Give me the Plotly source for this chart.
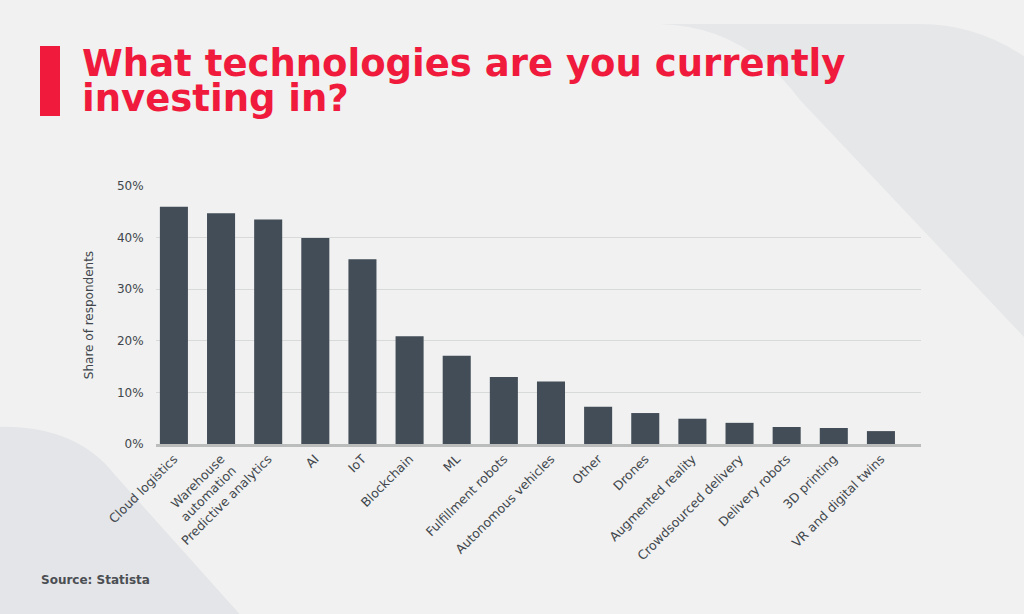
import plotly.graph_objects as go

categories = ["Cloud logistics", "Warehouse<br>automation", "Predictive analytics", "AI", "IoT",
              "Blockchain", "ML", "Fulfillment robots", "Autonomous vehicles", "Other", "Drones",
              "Augmented reality", "Crowdsourced delivery", "Delivery robots", "3D printing",
              "VR and digital twins"]
shares = [46.0, 44.7, 43.5, 39.9, 35.8, 20.9, 17.1, 13.0, 12.1, 7.2, 6.0, 4.9, 4.1, 3.3, 3.1, 2.5]
y_ticks = [0, 10, 20, 30, 40, 50]
y_tick_labels = ["0%", "10%", "20%", "30%", "40%", "50%"]

W, H = 1024, 614
L, R, T, B = 156, 921, 186, 444  # plot area in pixels


def px(x, y):
    return (x - L) / (R - L), (B - y) / (B - T)


def path(cmds):
    out = []
    for c in cmds:
        op, pts = c[0], c[1:]
        s = op
        for i in range(0, len(pts), 2):
            xx, yy = px(pts[i], pts[i + 1])
            s += f" {xx:.4f},{yy:.4f}"
        out.append(s)
    return " ".join(out) + " Z"


BG = "#f0f1f0"
TEXT = "#41464c"
RED = "#f01a3c"

fig = go.Figure(go.Bar(
    x=categories, y=shares, marker_color="#434d57", marker_line_width=0,
    width=0.595, hoverinfo="x+y"))

shapes = [
    dict(type="path", xref="paper", yref="paper", layer="below", line_width=0,
         fillcolor="#e6e7e9",
         path=path([("M", 660, 24), ("Q", 745, 26, 800, 100), ("L", 1040, 354),
                    ("L", 1040, 68), ("Q", 985, 24, 920, 24)])),
    dict(type="path", xref="paper", yref="paper", layer="below", line_width=0,
         fillcolor="#e4e5e8",
         path=path([("M", -5, 427), ("Q", 75, 424, 115, 475), ("L", 245, 620),
                    ("L", -5, 620)])),
    dict(type="rect", xref="paper", yref="paper", line_width=0, fillcolor=RED,
         x0=px(40, 0)[0], x1=px(60, 0)[0], y0=px(0, 116)[1], y1=px(0, 46)[1]),
]

title_font = dict(family="DejaVu Sans", size=37, color=RED)
annotations = [
    dict(text="<b>What technologies are you currently</b>", xref="paper", yref="paper",
         x=px(80, 0)[0], y=px(0, 77)[1], xanchor="left", yanchor="bottom",
         showarrow=False, font=title_font, yshift=-10),
    dict(text="<b>investing in?</b>", xref="paper", yref="paper",
         x=px(80, 0)[0], y=px(0, 112)[1], xanchor="left", yanchor="bottom",
         showarrow=False, font=title_font, yshift=-10),
    dict(text="<b>Source: Statista</b>", xref="paper", yref="paper",
         x=px(39, 0)[0], y=px(0, 580)[1], xanchor="left", yanchor="middle",
         showarrow=False, font=dict(family="DejaVu Sans", size=12, color="#4b4e53")),
]

fig.update_layout(
    width=W, height=H,
    margin=dict(l=L, r=W - R, t=T, b=H - B, pad=0),
    paper_bgcolor=BG, plot_bgcolor="rgba(0,0,0,0)",
    shapes=shapes, annotations=annotations,
    showlegend=False, bargap=0.405,
    font=dict(family="DejaVu Sans", size=12, color=TEXT),
)
fig.update_xaxes(
    range=[-0.38, 15.85], tickangle=-45, showgrid=False, ticks="",
    showline=True, linecolor="#bbbcbc", linewidth=2.5,
    tickfont=dict(size=12.5, color=TEXT), fixedrange=True,
)
fig.update_yaxes(
    range=[0, 50], tickvals=y_ticks, ticktext=y_tick_labels,
    showgrid=True, gridcolor="#d8d9d9", gridwidth=1, zeroline=False,
    ticks="outside", ticklen=9, tickcolor="rgba(0,0,0,0)",
    title=dict(text="Share of respondents", font=dict(size=12, color=TEXT), standoff=20),
    tickfont=dict(size=12, color=TEXT), fixedrange=True,
)

fig.write_html("out.html", include_plotlyjs=True, config={"displayModeBar": False})
